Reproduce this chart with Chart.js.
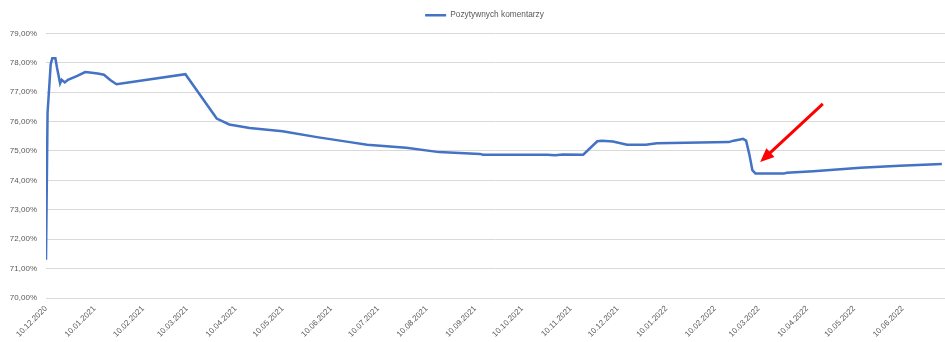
<!DOCTYPE html>
<html><head><meta charset="utf-8">
<script src="https://cdn.jsdelivr.net/npm/chart.js@4/dist/chart.umd.min.js"></script>
<style>html,body{margin:0;padding:0;background:#fff;} #wrap{width:945px;height:342px;}</style>
</head><body><div id="wrap"><canvas id="c" width="945" height="342"></canvas></div>
<script>
// ---- data ----
const startDate = [2020, 12, 10]; // 10.12.2020 = day 0
const dayOffsets = [0,1,3,4,6,7,9,10,12,14,20,25,28,33,37,41,45,89,109,117,130,151,173,194,205,230,251,277,279,320,325,330,343,352,355,362,371,383,390,436,439,444,445,447,449,451,453,471,473,490,520,545,572];
const positiveShare = [71.30,76.30,77.95,78.15,78.15,77.84,77.30,77.42,77.33,77.42,77.55,77.68,77.67,77.63,77.59,77.41,77.27,77.61,76.10,75.90,75.78,75.67,75.47,75.30,75.21,75.11,74.96,74.90,74.87,74.87,74.85,74.88,74.87,75.33,75.35,75.32,75.21,75.21,75.26,75.30,75.35,75.40,75.41,75.35,74.90,74.35,74.23,74.23,74.26,74.31,74.43,74.50,74.56];
const tickLabels = ["10.12.2020","10.01.2021","10.02.2021","10.03.2021","10.04.2021","10.05.2021","10.06.2021","10.07.2021","10.08.2021","10.09.2021","10.10.2021","10.11.2021","10.12.2021","10.01.2022","10.02.2022","10.03.2022","10.04.2022","10.05.2022","10.06.2022"];
const seriesName = "Pozytywnych komentarzy";
const arrowTail = [496, 76.60]; // [day, %]
const arrowTip  = [456, 74.62];

// ---- helpers ----
const t0 = Date.UTC(startDate[0], startDate[1]-1, startDate[2]);
const tickDays = tickLabels.map(s => { const [d,m,y] = s.split('.').map(Number); return Math.round((Date.UTC(y,m-1,d)-t0)/86400000); });
const FONT = 'Liberation Sans';
const TXT = '#595959';

const layoutTweaks = {
  id: 'layoutTweaks',
  beforeLayout(chart) {
    const lg = chart.legend;
    if (lg && !lg._patched) {
      const f = lg.fit;
      lg.fit = function () { f.call(this); this.height += 4; };
      lg._patched = true;
    }
  },
  afterLayout(chart) {
    if (chart.legend) chart.legend.left += 24;
  }
};

const arrowPlugin = {
  id: 'arrow',
  afterDatasetsDraw(chart) {
    const xs = chart.scales.x, ys = chart.scales.y, ctx = chart.ctx;
    const x1 = xs.getPixelForValue(arrowTail[0]), y1 = ys.getPixelForValue(arrowTail[1]);
    const x2 = xs.getPixelForValue(arrowTip[0]),  y2 = ys.getPixelForValue(arrowTip[1]);
    const ang = Math.atan2(y2-y1, x2-x1);
    const headLen = 14, headW = 6;
    const bx = x2 - headLen*Math.cos(ang), by = y2 - headLen*Math.sin(ang);
    ctx.save();
    ctx.strokeStyle = '#FF0000'; ctx.fillStyle = '#FF0000';
    ctx.lineWidth = 3; ctx.lineCap = 'butt';
    ctx.beginPath(); ctx.moveTo(x1,y1); ctx.lineTo(bx+2*Math.cos(ang), by+2*Math.sin(ang)); ctx.stroke();
    ctx.beginPath();
    ctx.moveTo(x2,y2);
    ctx.lineTo(bx + headW*Math.sin(ang), by - headW*Math.cos(ang));
    ctx.lineTo(bx - headW*Math.sin(ang), by + headW*Math.cos(ang));
    ctx.closePath(); ctx.fill();
    ctx.restore();
  }
};

new Chart(document.getElementById('c'), {
  type: 'line',
  data: { datasets: [{
    label: seriesName,
    data: dayOffsets.map((d,i) => ({x: d, y: positiveShare[i]})),
    borderColor: '#4472C4', backgroundColor: '#4472C4',
    borderWidth: 2.5, pointRadius: 0, tension: 0, fill: false
  }]},
  options: {
    responsive: false, animation: false, devicePixelRatio: 1,
    layout: { padding: { top: 5, left: 0, right: 0, bottom: 0 } },
    plugins: {
      legend: { position: 'top', labels: { usePointStyle: true, pointStyle: 'line', pointStyleWidth: 21, boxHeight: 8,
        font: { family: FONT, size: 8.3 }, color: TXT, padding: 6 } },
      tooltip: { enabled: false }
    },
    scales: {
      x: {
        type: 'linear', min: 0, max: 574,
        afterBuildTicks: s => { s.ticks = tickDays.map(v => ({ value: v })); },
        afterFit: s => { s.height = 44; },
        grid: { display: false }, border: { display: false },
        ticks: { autoSkip: false, minRotation: 45, maxRotation: 45, padding: -2,
          font: { family: FONT, size: 8 }, color: TXT,
          callback: v => tickLabels[tickDays.indexOf(v)] }
      },
      y: {
        min: 70, max: 79,
        afterFit: s => { s.width = 46; },
        grid: { color: '#d9d9d9', drawTicks: false, lineWidth: 1 }, border: { display: false },
        ticks: { stepSize: 1, padding: 9, font: { family: FONT, size: 8 }, color: TXT,
          callback: v => v.toFixed(2).replace('.', ',') + '%' }
      }
    }
  },
  plugins: [layoutTweaks, arrowPlugin]
});
</script>
</body></html>
